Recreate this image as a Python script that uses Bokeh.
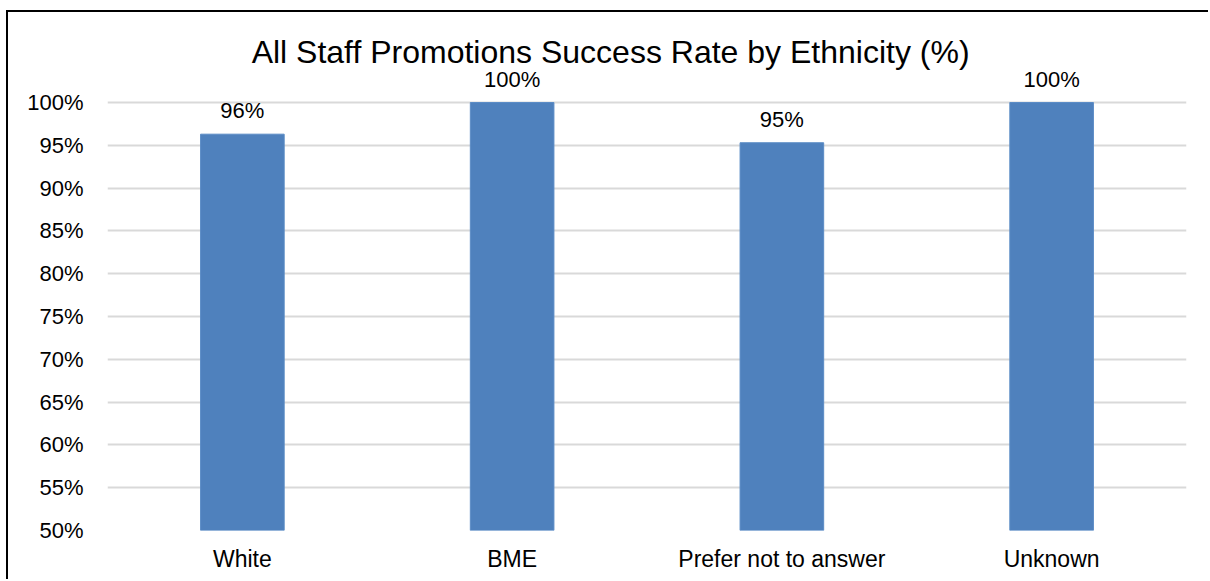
from bokeh.plotting import figure
from bokeh.models import FixedTicker, Range1d, ColumnDataSource
from bokeh.core.properties import value
from bokeh.embed import file_html
from bokeh.resources import INLINE

categories = ["White", "BME", "Prefer not to answer", "Unknown"]
rates = [0.963, 1.0, 0.953, 1.0]
rate_labels = ["96%", "100%", "95%", "100%"]
y_ticks = [0.50, 0.55, 0.60, 0.65, 0.70, 0.75, 0.80, 0.85, 0.90, 0.95, 1.00]
title_text = "All Staff Promotions Success Rate by Ethnicity (%)"

xs = [i + 0.5 for i in range(len(categories))]
src = ColumnDataSource(dict(x=xs, top=rates, lab=rate_labels))

FONT = "Liberation Sans"

p = figure(width=1202, height=569, output_backend="svg", toolbar_location=None,
           x_range=Range1d(0, len(categories)), y_range=Range1d(0.5, 1.0958),
           min_border_left=99, min_border_right=24, min_border_top=8, min_border_bottom=51)
p.margin = (10, 0, 0, 6)
p.styles = {"border-left": "2px solid black", "border-top": "2px solid black"}
p.outline_line_color = None
p.background_fill_color = "white"
p.border_fill_color = "white"

p.vbar(x="x", top="top", bottom=0.5, width=0.31, source=src,
       fill_color="#4F81BD", line_color="#5B8CC6", line_width=1)
p.text(x="x", y="top", text="lab", source=src, text_align="center", text_baseline="bottom",
       y_offset=-11, text_font=value(FONT), text_font_size="22px", text_color="#000000")

p.text(x=[1.865], y=[1.0595], text=[title_text], text_align="center", text_baseline="middle",
       text_font=value(FONT), text_font_size="32px", text_color="#000000")

p.yaxis.ticker = FixedTicker(ticks=y_ticks)
p.yaxis.major_label_overrides = {t: f"{int(round(t*100))}%" for t in y_ticks}
p.yaxis.axis_line_color = None
p.yaxis.major_tick_line_color = None
p.yaxis.minor_tick_line_color = None
p.yaxis.major_label_standoff = 18
p.yaxis.major_label_text_font = FONT
p.yaxis.major_label_text_font_size = "22px"
p.yaxis.major_label_text_color = "#000000"

p.xaxis.ticker = FixedTicker(ticks=xs)
p.xaxis.major_label_overrides = {x: c for x, c in zip(xs, categories)}
p.xaxis.axis_line_color = None
p.xaxis.major_tick_line_color = None
p.xaxis.minor_tick_line_color = None
p.xaxis.major_label_standoff = 9
p.xaxis.major_label_text_font = FONT
p.xaxis.major_label_text_font_size = "23px"
p.xaxis.major_label_text_color = "#000000"

p.xgrid.grid_line_color = None
p.ygrid.grid_line_color = "#D9D9D9"
p.ygrid.grid_line_width = 2

open("out.html", "w").write(file_html(p, INLINE))
